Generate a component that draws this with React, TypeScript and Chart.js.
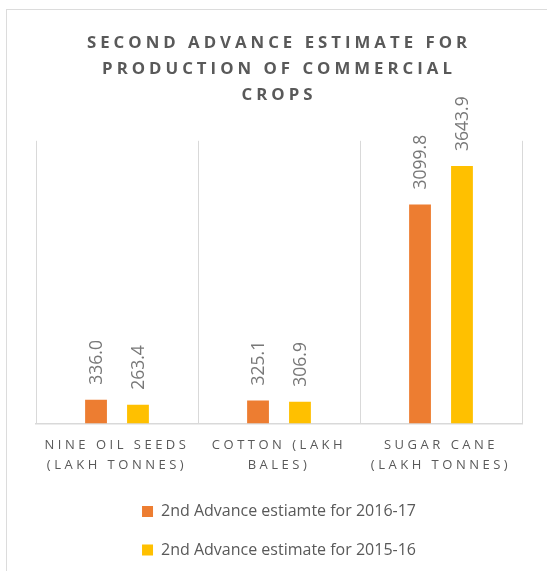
import React, { useEffect, useRef } from "react";
import { Chart, registerables } from "chart.js";

Chart.register(...registerables);

const TITLE_LINES = [
  "SECOND ADVANCE ESTIMATE FOR",
  "PRODUCTION OF COMMERCIAL",
  "CROPS",
];

const CATEGORIES = [
  ["NINE OIL SEEDS", "(LAKH TONNES)"],
  ["COTTON (LAKH", "BALES)"],
  ["SUGAR CANE", "(LAKH TONNES)"],
];

const SERIES_NAMES = [
  "2nd Advance estiamte for 2016-17",
  "2nd Advance estimate for 2015-16",
];

const ESTIMATE_2016_17 = [336.0, 325.1, 3099.8];
const ESTIMATE_2015_16 = [263.4, 306.9, 3643.9];

const FONT = "'Open Sans', 'DejaVu Sans', sans-serif";
const TEXT_GREY = "#595959";
const LABEL_GREY = "#787878";
const GRID_GREY = "#d9d9d9";

const W = 547;
const H = 568;

// Wide-tracked caps for the title and the category labels
const letterSpacingPlugin = {
  id: "letterSpacing",
  afterLayout(chart: any) {
    const title = chart.titleBlock;
    if (title && !title.__tracked) {
      const draw = title.draw.bind(title);
      title.draw = (area: any) => {
        const ctx = chart.ctx;
        ctx.save();
        ctx.letterSpacing = "4px";
        draw(area);
        ctx.restore();
      };
      title.__tracked = true;
    }
    const x = chart.scales.x;
    if (x && !x.__tracked) {
      const drawLabels = x.drawLabels.bind(x);
      x.drawLabels = (area: any) => {
        const ctx = chart.ctx;
        ctx.save();
        ctx.letterSpacing = "3.5px";
        ctx.translate(0, 3.5);
        drawLabels(area);
        ctx.restore();
      };
      x.__tracked = true;
    }
  },
};

// Vertical value labels above each bar
const valueLabelPlugin = {
  id: "valueLabels",
  afterDatasetsDraw(chart: any) {
    const ctx = chart.ctx;
    ctx.save();
    ctx.font = `17.5px ${FONT}`;
    ctx.fillStyle = LABEL_GREY;
    ctx.textAlign = "left";
    ctx.textBaseline = "middle";
    chart.data.datasets.forEach((ds: any, di: number) => {
      const meta = chart.getDatasetMeta(di);
      meta.data.forEach((bar: any, i: number) => {
        const v = ds.data[i] as number;
        ctx.save();
        ctx.translate(bar.x + 1, bar.y - 15);
        ctx.rotate(-Math.PI / 2);
        ctx.fillText(v.toFixed(1), 0, 0);
        ctx.restore();
      });
    });
    ctx.restore();
  },
};

export default function App() {
  const ref = useRef<HTMLCanvasElement | null>(null);

  useEffect(() => {
    if (!ref.current) return;
    const chart = new Chart(ref.current, {
      type: "bar",
      data: {
        labels: CATEGORIES,
        datasets: [
          {
            label: SERIES_NAMES[0],
            data: ESTIMATE_2016_17,
            backgroundColor: "#ED7D31",
            categoryPercentage: 0.518,
            barPercentage: 0.52,
          },
          {
            label: SERIES_NAMES[1],
            data: ESTIMATE_2015_16,
            backgroundColor: "#FFC000",
            categoryPercentage: 0.518,
            barPercentage: 0.52,
          },
        ],
      },
      options: {
        responsive: false,
        animation: false,
        layout: { padding: { left: 36, right: 25, top: 0, bottom: 0 } },
        plugins: {
          title: {
            display: true,
            text: TITLE_LINES,
            color: TEXT_GREY,
            font: { family: FONT, size: 16.8, weight: "bold", lineHeight: 1.55 },
            padding: { top: 30, bottom: 32.7 },
          },
          legend: {
            display: true,
            position: "bottom",
            labels: {
              color: TEXT_GREY,
              font: { family: FONT, size: 16 },
              boxWidth: 11,
              boxHeight: 11,
              padding: 22.6,
            },
          },
          tooltip: { enabled: false },
        },
        scales: {
          x: {
            offset: true,
            grid: {
              offset: true,
              color: GRID_GREY,
              lineWidth: 1,
              drawTicks: false,
            },
            border: { color: GRID_GREY, width: 1.5 },
            ticks: {
              color: TEXT_GREY,
              font: { family: FONT, size: 13, lineHeight: 1.515 },
              padding: 9,
              maxRotation: 0,
              autoSkip: false,
            },
          },
          y: {
            display: false,
            min: 0,
            max: 4000,
          },
        },
      },
      plugins: [letterSpacingPlugin, valueLabelPlugin],
    });
    return () => chart.destroy();
  }, []);

  return (
    <div
      style={{
        position: "absolute",
        left: 0,
        top: 0,
        width: W,
        height: 571,
        overflow: "hidden",
        background: "#ffffff",
      }}
    >
      <div
        style={{
          position: "absolute",
          left: 6,
          top: 9,
          width: 700,
          height: 700,
          border: "1.5px solid #dcdcdc",
        }}
      />
      <canvas
        ref={ref}
        width={W}
        height={H}
        style={{ position: "absolute", left: 0, top: 0, width: W, height: H }}
      />
    </div>
  );
}
